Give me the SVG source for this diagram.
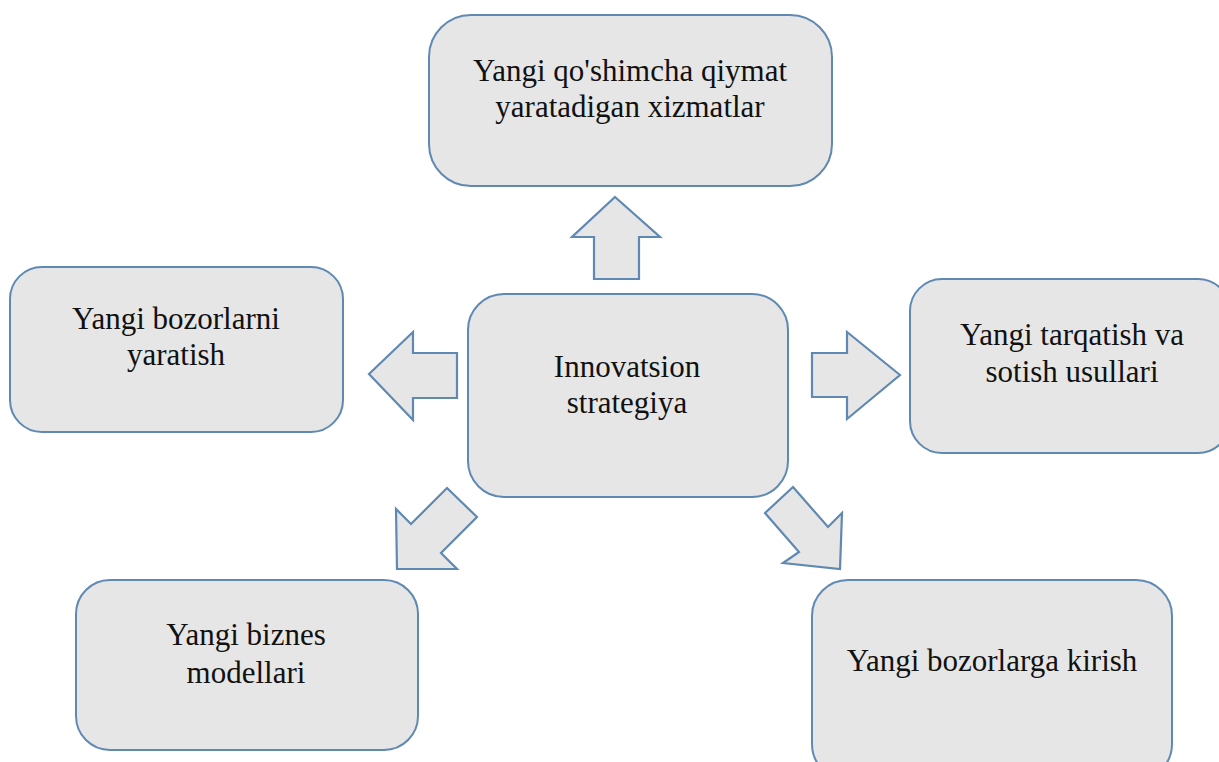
<svg xmlns="http://www.w3.org/2000/svg" width="1219" height="762" viewBox="0 0 1219 762">
<style>
.box{fill:#e6e6e6;stroke:#5f89b2;stroke-width:2}
.arr{fill:#e6e6e6;stroke:#5f89b2;stroke-width:2.2;stroke-linejoin:miter}
text{font-family:"Liberation Serif","Times New Roman",serif;font-size:31px;fill:#111111;text-anchor:middle}
</style>
<rect width="1219" height="762" fill="#ffffff"/>
<g id="connectors">
<polygon class="arr" points="615,197 660,237 639,237 639,279 594,279 594,237 572,237"/>
<polygon class="arr" points="369,374 413,332 413,353 457,353 457,398 413,398 413,420"/>
<polygon class="arr" points="900,375 847,332 847,353 812,353 812,397 847,397 847,419"/>
<polygon class="arr" points="447,488 477,517 441,553 457,569 397,569 396,509 411,524"/>
<polygon class="arr" points="793,487 828,527 842,513 840,569 783,563 799,552 765,513"/>
</g>
<g id="node-top">
<rect class="box" x="429" y="15" width="403" height="171" rx="42" ry="42"/>
<text x="630" y="81">Yangi qo'shimcha qiymat</text>
<text x="630" y="117">yaratadigan xizmatlar</text>
</g>
<g id="node-left">
<rect class="box" x="10" y="267" width="333" height="165" rx="32" ry="32"/>
<text x="176" y="329">Yangi bozorlarni</text>
<text x="176" y="365">yaratish</text>
</g>
<g id="node-center">
<rect class="box" x="468" y="294" width="320" height="203" rx="36" ry="36"/>
<text x="627" y="377">Innovatsion</text>
<text x="627" y="413">strategiya</text>
</g>
<g id="node-right">
<rect class="box" x="910" y="279" width="320" height="174" rx="32" ry="32"/>
<text x="1072" y="345">Yangi tarqatish va</text>
<text x="1072" y="382">sotish usullari</text>
</g>
<g id="node-bottom-left">
<rect class="box" x="76" y="580" width="342" height="170" rx="34" ry="34"/>
<text x="246" y="645">Yangi biznes</text>
<text x="246" y="683">modellari</text>
</g>
<g id="node-bottom-right">
<rect class="box" x="812" y="580" width="360" height="200" rx="36" ry="36"/>
<text x="992" y="671">Yangi bozorlarga kirish</text>
</g>
</svg>
